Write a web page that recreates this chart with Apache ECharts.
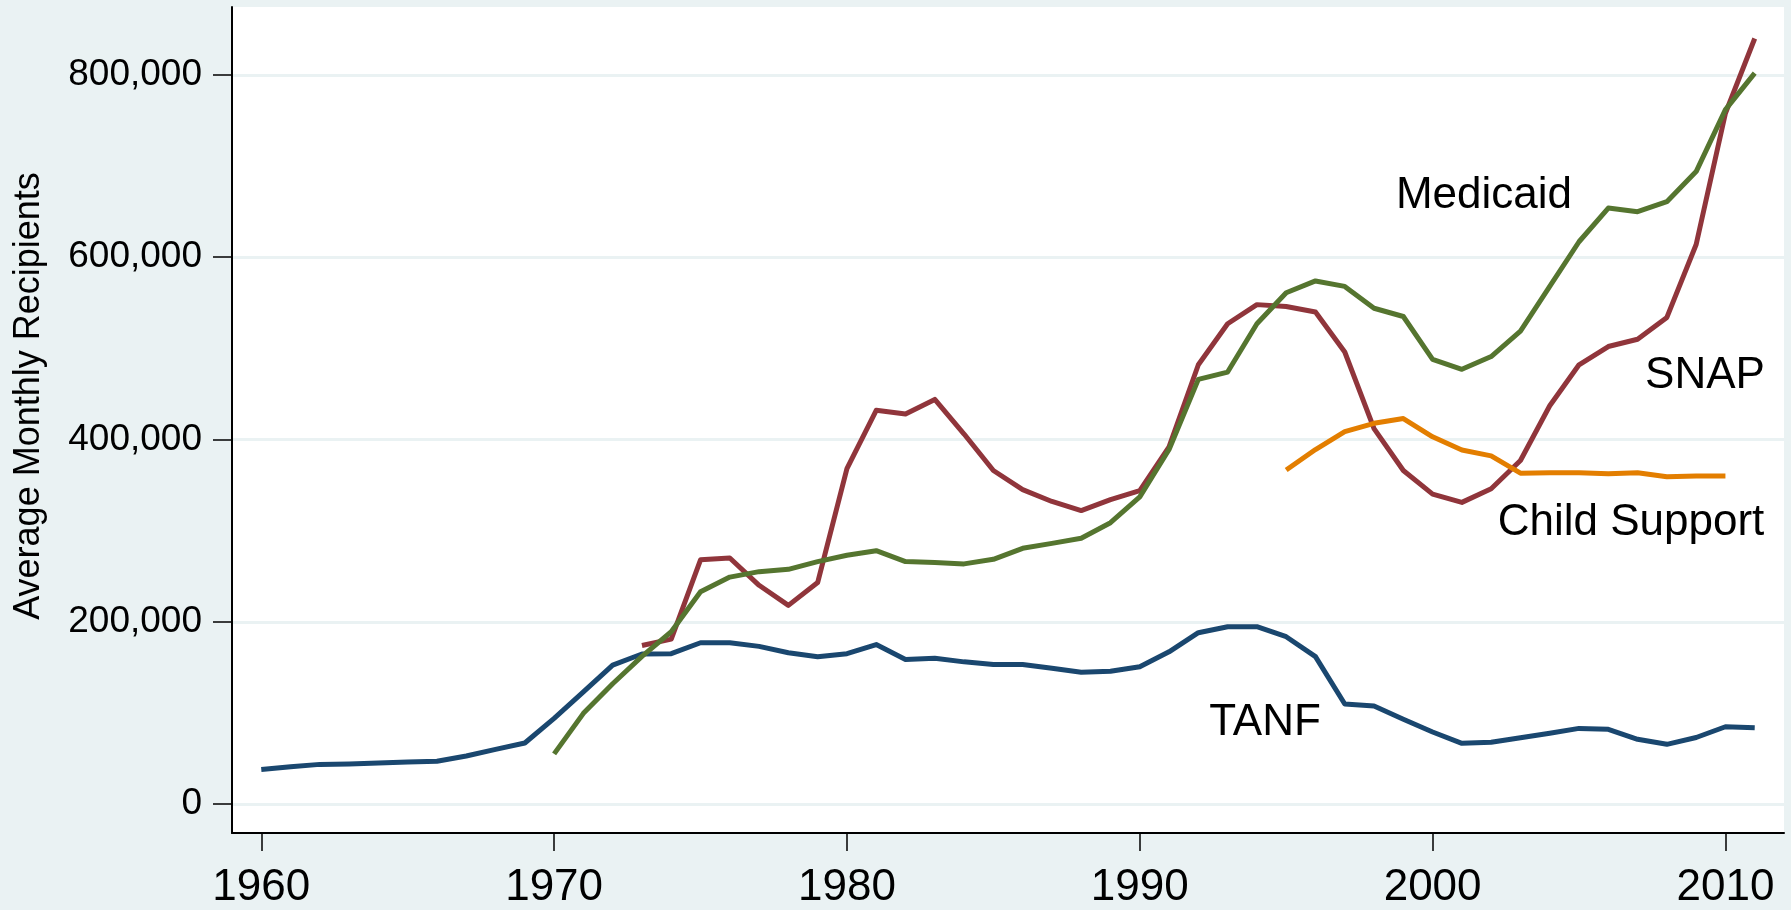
<!doctype html>
<html lang="en">
<head>
  <meta charset="UTF-8">
  <title>Average Monthly Recipients</title>
  <style>body{margin:0;background:#eaf2f3}</style>
</head>
<body>
<div id="main" style="width: 1791px;height: 910px"></div>
<script src="https://cdn.jsdelivr.net/npm/echarts@6.0.0/dist/echarts.min.js"></script>
<script>
    const years = [1960, 1961, 1962, 1963, 1964, 1965, 1966, 1967, 1968, 1969,
        1970, 1971, 1972, 1973, 1974, 1975, 1976, 1977, 1978, 1979,
        1980, 1981, 1982, 1983, 1984, 1985, 1986, 1987, 1988, 1989,
        1990, 1991, 1992, 1993, 1994, 1995, 1996, 1997, 1998, 1999,
        2000, 2001, 2002, 2003, 2004, 2005, 2006, 2007, 2008, 2009,
        2010, 2011]
    const tanf = [38000, 41000, 43500, 44000, 45000, 46000, 47000, 52700, 60000, 67000,
        94000, 123000, 152500, 164600, 165000, 177000, 177000, 173000, 166000, 161700,
        165000, 175000, 158700, 160000, 156000, 153000, 153000, 149000, 144500, 145600,
        150700, 167000, 188000, 194600, 194600, 183600, 161700, 109700, 107500, 93000,
        79000, 66600, 67700, 72800, 77600, 83000, 82000, 71000, 65500, 73000,
        84800, 83700]
    const snap = [null, null, null, null, null, null, null, null, null, null,
        null, null, null, 174000, 181000, 268000, 270000, 240000, 218000, 243000,
        368000, 432000, 428000, 444000, 406000, 366000, 345000, 332000, 322000, 334000,
        344000, 392000, 482000, 527000, 548000, 546000, 540000, 496000, 412000, 366000,
        340000, 331000, 346000, 377000, 437000, 482000, 502000, 510000, 534000, 614000,
        758000, 840000]
    const medicaid = [null, null, null, null, null, null, null, null, null, null,
        55000, 99500, 132000, 162000, 189000, 233000, 249000, 255000, 257500, 266000,
        273000, 278000, 266000, 265000, 263500, 268500, 280600, 286000, 291600, 308700,
        337000, 389000, 466000, 474000, 527000, 561000, 574000, 568000, 544000, 535000,
        488000, 477000, 491000, 519000, 568000, 617000, 654000, 650000, 661000, 694000,
        762000, 802000]
    const childSupport = [null, null, null, null, null, null, null, null, null, null,
        null, null, null, null, null, null, null, null, null, null,
        null, null, null, null, null, null, null, null, null, null,
        null, null, null, null, null, 366500, 389000, 408600, 417800, 423000,
        403000, 388500, 382000, 363000, 363600, 363600, 362500, 363600, 359200, 360000,
        360000, null]
    const xTicks = [1960, 1970, 1980, 1990, 2000, 2010]
    const yTicks = [0, 200000, 400000, 600000, 800000]

    const font = 'Liberation Sans, Arial, sans-serif'
    function pairs(arr) {
        return years.map((y, i) => [y, arr[i]])
    }
    function lineSeries(name, arr, color) {
        return {
            name: name,
            type: 'line',
            data: pairs(arr),
            showSymbol: false,
            symbol: 'none',
            clip: false,
            lineStyle: {color: color, width: 5, join: 'round'},
            itemStyle: {color: color}
        }
    }
    function label(text, x, y) {
        return {
            type: 'text', x: x, y: y, z: 100,
            style: {text: text, fontSize: 44, fontFamily: font, fill: '#000',
                align: 'center', verticalAlign: 'middle'}
        }
    }

    let myCharts = echarts.init(document.querySelector('#main'))
    myCharts.setOption({
        animation: false,
        backgroundColor: '#eaf2f3',
        grid: {
            left: 232, top: 7, width: 1552, height: 826,
            show: true, backgroundColor: '#ffffff', borderWidth: 0,
            containLabel: false
        },
        xAxis: {
            type: 'value',
            min: 1959,
            max: 2012,
            axisLine: {show: true, onZero: false, lineStyle: {color: '#000', width: 2}},
            axisTick: {show: true, length: 18, customValues: xTicks, lineStyle: {color: '#000', width: 1.5}},
            axisLabel: {customValues: xTicks, margin: 33, fontSize: 44, fontFamily: font, color: '#000',
                formatter: v => String(v)},
            splitLine: {show: false}
        },
        yAxis: {
            type: 'value',
            min: -31800,
            max: 874600,
            axisLine: {show: true, lineStyle: {color: '#000', width: 2}},
            axisTick: {show: true, length: 19, customValues: yTicks, lineStyle: {color: '#000', width: 1.5}},
            axisLabel: {customValues: yTicks, margin: 30, fontSize: 37, fontFamily: font, color: '#000',
                formatter: v => v.toString().replace(/\B(?=(\d{3})+(?!\d))/g, ',')},
            splitLine: {show: true, lineStyle: {color: '#eaf2f3', width: 3}}
        },
        graphic: [
            {
                type: 'text', x: 29, y: 396, rotation: Math.PI / 2, z: 100,
                style: {text: 'Average Monthly Recipients', fontSize: 36, fontFamily: font, fill: '#000',
                    align: 'center', verticalAlign: 'middle'}
            },
            label('Medicaid', 1484, 196),
            label('SNAP', 1705, 376),
            label('Child Support', 1631, 523),
            label('TANF', 1265, 723)
        ],
        series: [
            lineSeries('TANF', tanf, '#1a476f'),
            lineSeries('SNAP', snap, '#90353b'),
            lineSeries('Medicaid', medicaid, '#55752f'),
            lineSeries('Child Support', childSupport, '#e37e00')
        ]
    })
</script>
</body>
</html>
